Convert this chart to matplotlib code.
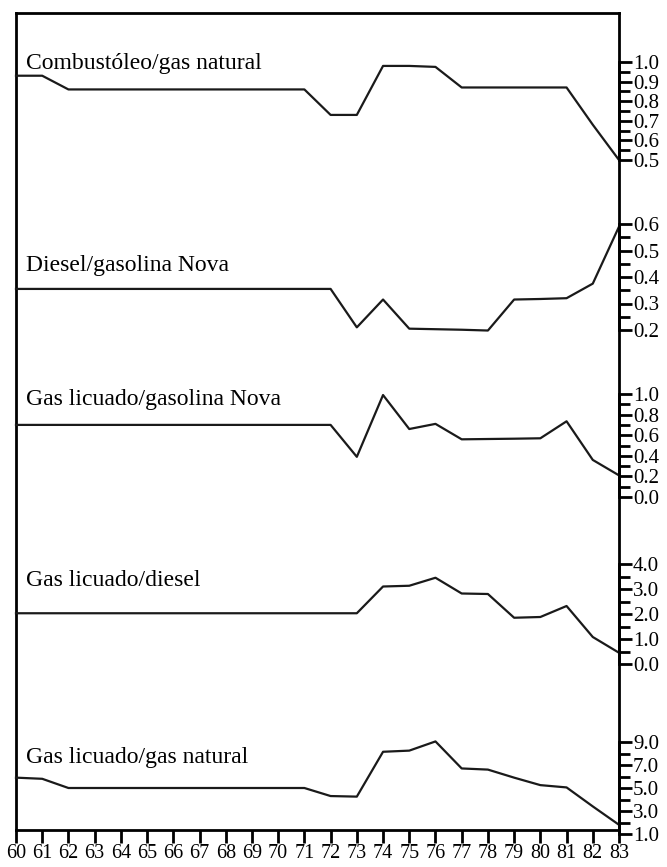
import matplotlib
matplotlib.use('Agg')
import matplotlib.pyplot as plt

plt.rcParams['font.family'] = ['Liberation Serif', 'DejaVu Serif']

years = list(range(60, 84))
year_labels = [str(y) for y in years]

combustoleo_gas = [0.93, 0.93, 0.86, 0.86, 0.86, 0.86, 0.86, 0.86, 0.86, 0.86, 0.86, 0.86,
                   0.73, 0.73, 0.98, 0.98, 0.975, 0.87, 0.87, 0.87, 0.87, 0.87, 0.68, 0.50]
diesel_nova = [0.355, 0.355, 0.355, 0.355, 0.355, 0.355, 0.355, 0.355, 0.355, 0.355, 0.355, 0.355, 0.355,
               0.21, 0.315, 0.205, 0.203, 0.201, 0.198, 0.315, 0.317, 0.32, 0.375, 0.59]
licuado_nova = [0.70, 0.70, 0.70, 0.70, 0.70, 0.70, 0.70, 0.70, 0.70, 0.70, 0.70, 0.70, 0.70,
                0.39, 0.99, 0.66, 0.71, 0.56, 0.563, 0.566, 0.57, 0.735, 0.36, 0.21]
licuado_diesel = [2.03, 2.03, 2.03, 2.03, 2.03, 2.03, 2.03, 2.03, 2.03, 2.03, 2.03, 2.03, 2.03, 2.03,
                  3.1, 3.13, 3.45, 2.82, 2.8, 1.85, 1.88, 2.32, 1.08, 0.45]
licuado_gas = [5.9, 5.8, 5.0, 5.0, 5.0, 5.0, 5.0, 5.0, 5.0, 5.0, 5.0, 5.0,
               4.3, 4.25, 8.15, 8.25, 9.05, 6.7, 6.6, 5.9, 5.25, 5.05, 3.4, 1.8]

titles = ['Combustóleo/gas natural', 'Diesel/gasolina Nova', 'Gas licuado/gasolina Nova',
          'Gas licuado/diesel', 'Gas licuado/gas natural']
series = [combustoleo_gas, diesel_nova, licuado_nova, licuado_diesel, licuado_gas]

major_ticks = [[1.0, 0.9, 0.8, 0.7, 0.6, 0.5],
               [0.6, 0.5, 0.4, 0.3, 0.2],
               [1.0, 0.8, 0.6, 0.4, 0.2, 0.0],
               [4.0, 3.0, 2.0, 1.0, 0.0],
               [9.0, 7.0, 5.0, 3.0, 1.0]]
minor_ticks = [[0.95, 0.85, 0.75, 0.65, 0.55],
               [0.55, 0.45, 0.35, 0.25],
               [0.9, 0.7, 0.5, 0.3, 0.1],
               [3.5, 2.5, 1.5, 0.5],
               [8.0, 6.0, 4.0, 2.0]]

# layout in pixels (top origin)
W, H = 667, 867
left, right = 16, 619
frame_top, frame_bottom = 13, 830
# pixel rows of the top and bottom tick of each panel
panel_px = [(62, 160), (224, 330), (394, 497), (564, 664), (742, 834)]
title_px = [64, 265, 400, 580, 757]

fig = plt.figure(figsize=(W / 100, H / 100), dpi=100)

frame = fig.add_axes([left / W, 1 - frame_bottom / H, (right - left) / W, (frame_bottom - frame_top) / H])
frame.set_xlim(60, 83)
frame.set_ylim(0, 1)
frame.set_yticks([])
frame.set_xticks(years)
frame.set_xticklabels(year_labels)
frame.tick_params(axis='x', direction='out', length=9, width=2, labelsize=14.5, pad=1)
for s in frame.spines.values():
    s.set_linewidth(2)

for i in range(5):
    top_px, bot_px = panel_px[i]
    ax = fig.add_axes([left / W, 1 - bot_px / H, (right - left) / W, (bot_px - top_px) / H])
    ax.patch.set_alpha(0)
    ax.set_xlim(60, 83)
    ax.set_ylim(major_ticks[i][-1], major_ticks[i][0])
    ax.plot(years, series[i], color='#1a1a1a', lw=1.6, clip_on=False)
    for side in ['left', 'top', 'bottom']:
        ax.spines[side].set_visible(False)
    ax.spines['right'].set_linewidth(2)
    ax.set_xticks([])
    ax.yaxis.tick_right()
    ax.set_yticks(major_ticks[i])
    ax.set_yticklabels(['%.1f' % v for v in major_ticks[i]])
    ax.set_yticks(minor_ticks[i], minor=True)
    ax.tick_params(axis='y', which='major', direction='out', length=9, width=2, labelsize=15, pad=1)
    ax.tick_params(axis='y', which='minor', direction='out', length=8, width=2)
    fig.text(26 / W, 1 - title_px[i] / H, titles[i], fontsize=17, va='center', ha='left')

fig.savefig('out.png', dpi=100)
